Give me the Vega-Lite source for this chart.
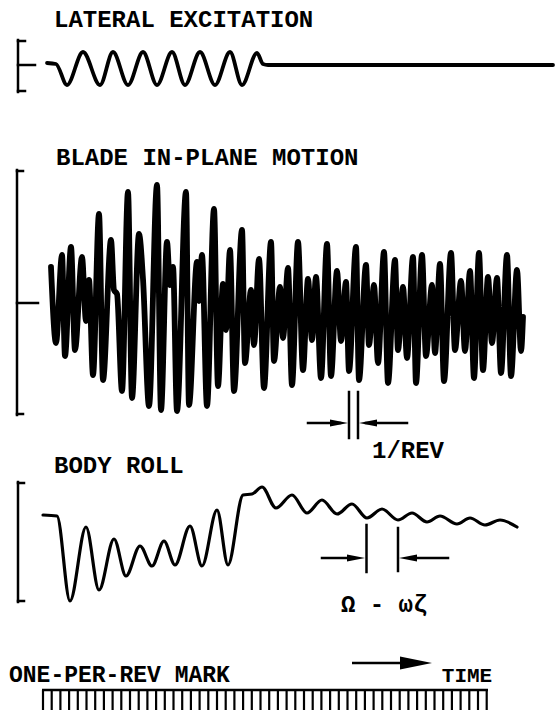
{
  "$schema": "https://vega.github.io/schema/vega-lite/v6.json",
  "background": "white",
  "padding": 0,
  "spacing": 0,
  "bounds": "flush",
  "config": {"view": {"stroke": null}},
  "resolve": {"scale": {"x": "independent", "y": "independent", "shape": "independent"}},
  "datasets": {
    "lateral": [
      {"t": 47, "a": 5}, {"t": 56, "a": 4}, {"t": 67, "a": -17}, {"t": 83, "a": 16}, {"t": 100, "a": -17},
      {"t": 113, "a": 16}, {"t": 128, "a": -17}, {"t": 143, "a": 16}, {"t": 157, "a": -17}, {"t": 172, "a": 16},
      {"t": 185, "a": -17}, {"t": 200, "a": 16}, {"t": 215, "a": -17}, {"t": 230, "a": 16}, {"t": 242, "a": -17},
      {"t": 257, "a": 15}, {"t": 263, "a": 4}, {"t": 268, "a": 3}, {"t": 553, "a": 3}
    ],
    "bracketA": [
      {"t": 18, "a": 28, "t2": 18, "a2": -24},
      {"t": 18, "a": 27, "t2": 25, "a2": 27},
      {"t": 18, "a": -23, "t2": 25, "a2": -23},
      {"t": 18, "a": 3, "t2": 35, "a2": 3}
    ],
    "textA": [{"t": 54, "a": 41, "label": "LATERAL EXCITATION"}],
    "blade": [
      {"t": 51, "a": 36}, {"t": 56, "a": -40}, {"t": 62, "a": 48}, {"t": 65, "a": -53}, {"t": 71, "a": 56},
      {"t": 75, "a": -47}, {"t": 82, "a": 46}, {"t": 86, "a": -18}, {"t": 89, "a": 23}, {"t": 93, "a": -72},
      {"t": 99, "a": 89}, {"t": 103, "a": -77}, {"t": 111, "a": 63}, {"t": 114, "a": 13}, {"t": 117, "a": 9},
      {"t": 122, "a": -88}, {"t": 128, "a": 111}, {"t": 132, "a": -95}, {"t": 139, "a": 69}, {"t": 143, "a": 24},
      {"t": 149, "a": -103}, {"t": 157, "a": 118}, {"t": 161, "a": -107}, {"t": 167, "a": 61}, {"t": 170, "a": 18},
      {"t": 173, "a": 36}, {"t": 177, "a": -108}, {"t": 186, "a": 111}, {"t": 189, "a": -102}, {"t": 197, "a": 41},
      {"t": 199, "a": 2}, {"t": 202, "a": 48}, {"t": 207, "a": -103}, {"t": 214, "a": 94}, {"t": 218, "a": -83},
      {"t": 223, "a": 19}, {"t": 226, "a": -27}, {"t": 230, "a": 53}, {"t": 234, "a": -88}, {"t": 242, "a": 73},
      {"t": 245, "a": -60}, {"t": 251, "a": 13}, {"t": 254, "a": -42}, {"t": 259, "a": 44}, {"t": 264, "a": -85},
      {"t": 271, "a": 61}, {"t": 274, "a": -58}, {"t": 280, "a": 16}, {"t": 283, "a": -35}, {"t": 288, "a": 35},
      {"t": 292, "a": -82}, {"t": 298, "a": 61}, {"t": 303, "a": -67}, {"t": 308, "a": 24}, {"t": 312, "a": -37},
      {"t": 316, "a": 26}, {"t": 321, "a": -75}, {"t": 327, "a": 59}, {"t": 331, "a": -73}, {"t": 337, "a": 32},
      {"t": 341, "a": -38}, {"t": 346, "a": 21}, {"t": 349, "a": -68}, {"t": 356, "a": 56}, {"t": 359, "a": -77},
      {"t": 366, "a": 38}, {"t": 369, "a": -42}, {"t": 374, "a": 18}, {"t": 378, "a": -60}, {"t": 384, "a": 51},
      {"t": 388, "a": -80}, {"t": 395, "a": 43}, {"t": 398, "a": -47}, {"t": 403, "a": 16}, {"t": 407, "a": -55},
      {"t": 413, "a": 46}, {"t": 416, "a": -80}, {"t": 422, "a": 48}, {"t": 426, "a": -53}, {"t": 432, "a": 18},
      {"t": 435, "a": -50}, {"t": 440, "a": 39}, {"t": 444, "a": -78}, {"t": 451, "a": 50}, {"t": 455, "a": -47},
      {"t": 461, "a": 22}, {"t": 465, "a": -48}, {"t": 470, "a": 32}, {"t": 474, "a": -75}, {"t": 479, "a": 50},
      {"t": 483, "a": -67}, {"t": 488, "a": 26}, {"t": 492, "a": -40}, {"t": 497, "a": 25}, {"t": 501, "a": -70},
      {"t": 507, "a": 48}, {"t": 511, "a": -73}, {"t": 517, "a": 33}, {"t": 521, "a": -48}, {"t": 523, "a": -14}
    ],
    "rulesB": [
      {"t": 17, "a": 133, "t2": 17, "a2": -112},
      {"t": 17, "a": 132, "t2": 23, "a2": 132},
      {"t": 17, "a": -111, "t2": 23, "a2": -111},
      {"t": 17, "a": 0, "t2": 38, "a2": 0},
      {"t": 349, "a": -89, "t2": 349, "a2": -135},
      {"t": 358, "a": -89, "t2": 358, "a2": -135},
      {"t": 308, "a": -120, "t2": 340, "a2": -120},
      {"t": 366, "a": -120, "t2": 407, "a2": -120}
    ],
    "headsB": [
      {"t": 339, "a": -120, "dir": "right"},
      {"t": 368, "a": -120, "dir": "left"}
    ],
    "textB": [
      {"t": 56, "a": 138, "label": "BLADE IN-PLANE MOTION"},
      {"t": 372, "a": -155, "label": "1/REV"}
    ],
    "roll": [
      {"t": 43, "a": 0}, {"t": 57, "a": -1}, {"t": 70, "a": -86}, {"t": 86, "a": -12}, {"t": 99, "a": -75},
      {"t": 114, "a": -24}, {"t": 126, "a": -61}, {"t": 140, "a": -31}, {"t": 152, "a": -51}, {"t": 164, "a": -26},
      {"t": 175, "a": -50}, {"t": 190, "a": -11}, {"t": 202, "a": -51}, {"t": 217, "a": 5}, {"t": 228, "a": -50},
      {"t": 243, "a": 20}, {"t": 252, "a": 21}, {"t": 262, "a": 28}, {"t": 276, "a": 7}, {"t": 292, "a": 20},
      {"t": 307, "a": 2}, {"t": 322, "a": 15}, {"t": 337, "a": 1}, {"t": 352, "a": 11}, {"t": 367, "a": -3},
      {"t": 382, "a": 6}, {"t": 398, "a": -5}, {"t": 412, "a": 2}, {"t": 427, "a": -7}, {"t": 440, "a": -1},
      {"t": 457, "a": -9}, {"t": 470, "a": -3}, {"t": 485, "a": -10}, {"t": 500, "a": -5}, {"t": 517, "a": -12}
    ],
    "rulesC": [
      {"t": 18, "a": 33, "t2": 18, "a2": -87},
      {"t": 18, "a": 32, "t2": 24, "a2": 32},
      {"t": 18, "a": -86, "t2": 24, "a2": -86},
      {"t": 366.5, "a": -10, "t2": 366.5, "a2": -57},
      {"t": 398, "a": -13, "t2": 398, "a2": -56},
      {"t": 322, "a": -43, "t2": 350, "a2": -43},
      {"t": 415, "a": -43, "t2": 448, "a2": -43}
    ],
    "headsC": [
      {"t": 356, "a": -43, "dir": "right"},
      {"t": 408, "a": -43, "dir": "left"}
    ],
    "textC": [
      {"t": 54, "a": 42, "label": "BODY ROLL"},
      {"t": 341, "a": -97, "label": "Ω - ωζ"}
    ],
    "revs": [
      {"t": 43, "a": 0, "a2": -20}, {"t": 51.7, "a": 0, "a2": -20}, {"t": 60.4, "a": 0, "a2": -20}, {"t": 69.1, "a": 0, "a2": -20},
      {"t": 77.8, "a": 0, "a2": -20}, {"t": 86.5, "a": 0, "a2": -20}, {"t": 95.2, "a": 0, "a2": -20}, {"t": 103.9, "a": 0, "a2": -20},
      {"t": 112.6, "a": 0, "a2": -20}, {"t": 121.3, "a": 0, "a2": -20}, {"t": 130, "a": 0, "a2": -20}, {"t": 138.7, "a": 0, "a2": -20},
      {"t": 147.4, "a": 0, "a2": -20}, {"t": 156.1, "a": 0, "a2": -20}, {"t": 164.8, "a": 0, "a2": -20}, {"t": 173.5, "a": 0, "a2": -20},
      {"t": 182.2, "a": 0, "a2": -20}, {"t": 190.9, "a": 0, "a2": -20}, {"t": 199.6, "a": 0, "a2": -20}, {"t": 208.3, "a": 0, "a2": -20},
      {"t": 217, "a": 0, "a2": -20}, {"t": 225.7, "a": 0, "a2": -20}, {"t": 234.4, "a": 0, "a2": -20}, {"t": 243.1, "a": 0, "a2": -20},
      {"t": 251.8, "a": 0, "a2": -20}, {"t": 260.5, "a": 0, "a2": -20}, {"t": 269.2, "a": 0, "a2": -20}, {"t": 277.9, "a": 0, "a2": -20},
      {"t": 286.6, "a": 0, "a2": -20}, {"t": 295.3, "a": 0, "a2": -20}, {"t": 304, "a": 0, "a2": -20}, {"t": 312.7, "a": 0, "a2": -20},
      {"t": 321.4, "a": 0, "a2": -20}, {"t": 330.1, "a": 0, "a2": -20}, {"t": 338.8, "a": 0, "a2": -20}, {"t": 347.5, "a": 0, "a2": -20},
      {"t": 356.2, "a": 0, "a2": -20}, {"t": 364.9, "a": 0, "a2": -20}, {"t": 373.6, "a": 0, "a2": -20}, {"t": 382.3, "a": 0, "a2": -20},
      {"t": 391, "a": 0, "a2": -20}, {"t": 399.7, "a": 0, "a2": -20}, {"t": 408.4, "a": 0, "a2": -20}, {"t": 417.1, "a": 0, "a2": -20},
      {"t": 425.8, "a": 0, "a2": -20}, {"t": 434.5, "a": 0, "a2": -20}, {"t": 443.2, "a": 0, "a2": -20}, {"t": 451.9, "a": 0, "a2": -20},
      {"t": 460.6, "a": 0, "a2": -20}, {"t": 469.3, "a": 0, "a2": -20}, {"t": 478, "a": 0, "a2": -20}, {"t": 486.7, "a": 0, "a2": -20}
    ],
    "rulesD": [
      {"t": 42, "a": 0, "t2": 488, "a2": 0},
      {"t": 352, "a": 27, "t2": 405, "a2": 27}
    ],
    "headsD": [{"t": 416, "a": 27, "dir": "right"}],
    "textD": [{"t": 9, "a": 8, "label": "ONE-PER-REV MARK"}],
    "timeD": [{"t": 467, "a": 8, "label": "TIME"}]
  },
  "vconcat": [
    {
      "width": 555,
      "height": 125,
      "encoding": {
        "x": {"field": "t", "type": "quantitative", "scale": {"domain": [0, 555], "nice": false, "zero": false}, "axis": null},
        "y": {"field": "a", "type": "quantitative", "scale": {"domain": [-57, 68], "nice": false, "zero": false}, "axis": null}
      },
      "layer": [
        {"data": {"name": "lateral"}, "mark": {"type": "line", "interpolate": "monotone", "color": "black", "strokeWidth": 3.8, "strokeCap": "round", "strokeJoin": "round"}},
        {"data": {"name": "bracketA"}, "mark": {"type": "rule", "color": "black", "strokeWidth": 2.5, "strokeCap": "square"}, "encoding": {"x2": {"field": "t2"}, "y2": {"field": "a2"}}},
        {"data": {"name": "textA"}, "mark": {"type": "text", "font": "Liberation Mono", "fontSize": 24, "fontWeight": "bold", "align": "left", "baseline": "alphabetic", "color": "black"}, "encoding": {"text": {"field": "label"}}}
      ]
    },
    {
      "width": 555,
      "height": 315,
      "encoding": {
        "x": {"field": "t", "type": "quantitative", "scale": {"domain": [0, 555], "nice": false, "zero": false}, "axis": null},
        "y": {"field": "a", "type": "quantitative", "scale": {"domain": [-137, 178], "nice": false, "zero": false}, "axis": null}
      },
      "layer": [
        {"data": {"name": "blade"}, "mark": {"type": "line", "interpolate": "monotone", "color": "black", "strokeWidth": 5.8, "strokeCap": "round", "strokeJoin": "round"}},
        {"data": {"name": "rulesB"}, "mark": {"type": "rule", "color": "black", "strokeWidth": 2.5, "strokeCap": "square"}, "encoding": {"x2": {"field": "t2"}, "y2": {"field": "a2"}}},
        {"data": {"name": "headsB"}, "mark": {"type": "point", "filled": true, "color": "black", "opacity": 1, "size": 324}, "encoding": {"shape": {"field": "dir", "type": "nominal", "scale": {"domain": ["right", "left"], "range": ["M-1,-0.4L1,0L-1,0.4Z", "M1,-0.4L-1,0L1,0.4Z"]}, "legend": null}}},
        {"data": {"name": "textB"}, "mark": {"type": "text", "font": "Liberation Mono", "fontSize": 24, "fontWeight": "bold", "align": "left", "baseline": "alphabetic", "color": "black"}, "encoding": {"text": {"field": "label"}}}
      ]
    },
    {
      "width": 555,
      "height": 190,
      "encoding": {
        "x": {"field": "t", "type": "quantitative", "scale": {"domain": [0, 555], "nice": false, "zero": false}, "axis": null},
        "y": {"field": "a", "type": "quantitative", "scale": {"domain": [-115, 75], "nice": false, "zero": false}, "axis": null}
      },
      "layer": [
        {"data": {"name": "roll"}, "mark": {"type": "line", "interpolate": "monotone", "color": "black", "strokeWidth": 3.2, "strokeCap": "round", "strokeJoin": "round"}},
        {"data": {"name": "rulesC"}, "mark": {"type": "rule", "color": "black", "strokeWidth": 2.5, "strokeCap": "square"}, "encoding": {"x2": {"field": "t2"}, "y2": {"field": "a2"}}},
        {"data": {"name": "headsC"}, "mark": {"type": "point", "filled": true, "color": "black", "opacity": 1, "size": 324}, "encoding": {"shape": {"field": "dir", "type": "nominal", "scale": {"domain": ["right", "left"], "range": ["M-1,-0.4L1,0L-1,0.4Z", "M1,-0.4L-1,0L1,0.4Z"]}, "legend": null}}},
        {"data": {"name": "textC"}, "mark": {"type": "text", "font": "Liberation Mono", "fontSize": 24, "fontWeight": "bold", "align": "left", "baseline": "alphabetic", "color": "black"}, "encoding": {"text": {"field": "label"}}}
      ]
    },
    {
      "width": 555,
      "height": 88,
      "encoding": {
        "x": {"field": "t", "type": "quantitative", "scale": {"domain": [0, 555], "nice": false, "zero": false}, "axis": null},
        "y": {"field": "a", "type": "quantitative", "scale": {"domain": [-28, 60], "nice": false, "zero": false}, "axis": null}
      },
      "layer": [
        {"data": {"name": "revs"}, "mark": {"type": "rule", "color": "black", "strokeWidth": 2.2}, "encoding": {"y2": {"field": "a2"}}},
        {"data": {"name": "rulesD"}, "mark": {"type": "rule", "color": "black", "strokeWidth": 2.5}, "encoding": {"x2": {"field": "t2"}, "y2": {"field": "a2"}}},
        {"data": {"name": "headsD"}, "mark": {"type": "point", "filled": true, "color": "black", "opacity": 1, "size": 1024}, "encoding": {"shape": {"field": "dir", "type": "nominal", "scale": {"domain": ["right", "left"], "range": ["M-1,-0.4L1,0L-1,0.4Z", "M1,-0.4L-1,0L1,0.4Z"]}, "legend": null}}},
        {"data": {"name": "textD"}, "mark": {"type": "text", "font": "Liberation Mono", "fontSize": 23, "fontWeight": "bold", "align": "left", "baseline": "alphabetic", "color": "black"}, "encoding": {"text": {"field": "label"}}},
        {"data": {"name": "timeD"}, "mark": {"type": "text", "font": "Liberation Mono", "fontSize": 21, "fontWeight": "bold", "align": "center", "baseline": "alphabetic", "color": "black"}, "encoding": {"text": {"field": "label"}}}
      ]
    }
  ]
}
